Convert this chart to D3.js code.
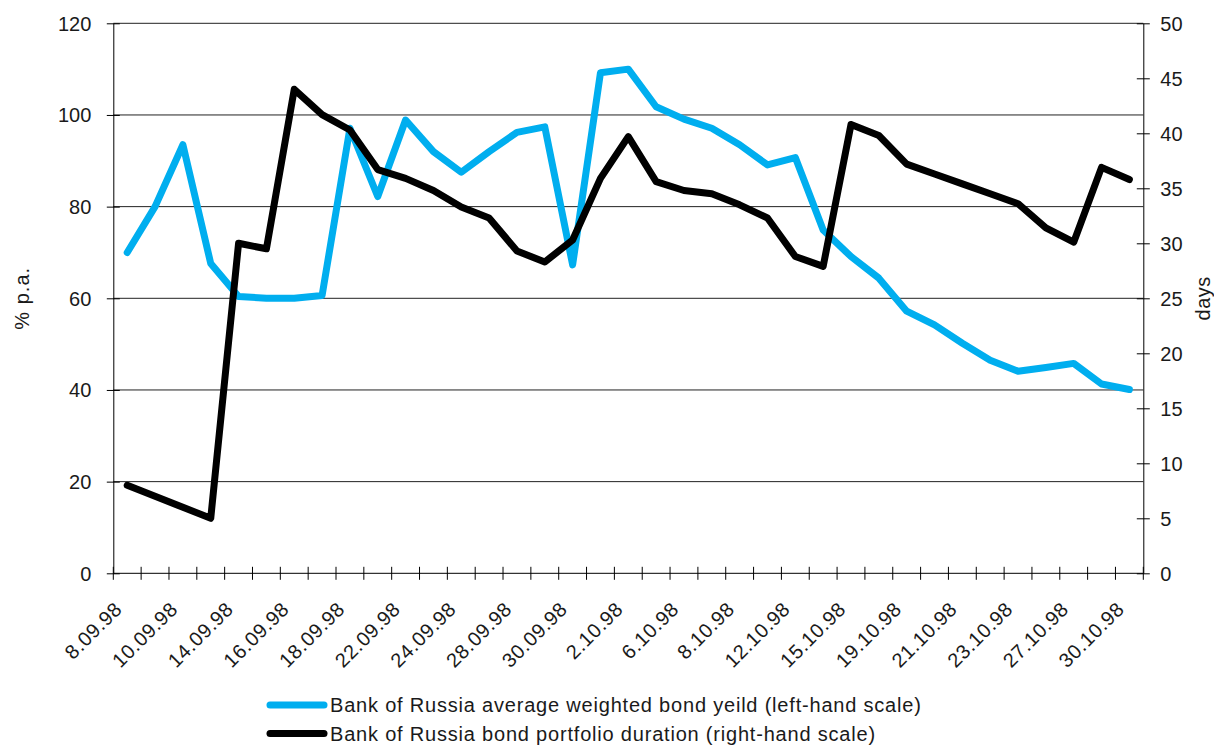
<html>
  <head>
    <meta charset="utf-8">
    <style>
      body { margin: 0; background: #fff; }
      #chart { width: 1214px; height: 745px; }
      text { font-family: "Liberation Sans", Arial, sans-serif; fill: #1a1a1a; }
    </style>
    <script src="https://d3js.org/d3.v7.min.js"></script>
  </head>
  <body>
    <div id="chart"></div>

    <script>
      // trading days, 8 Sep - 30 Oct 1998
      const dates = [
        '8.09.98', '9.09.98', '10.09.98', '11.09.98', '14.09.98', '15.09.98', '16.09.98', '17.09.98',
        '18.09.98', '21.09.98', '22.09.98', '23.09.98', '24.09.98', '25.09.98', '28.09.98', '29.09.98',
        '30.09.98', '1.10.98', '2.10.98', '5.10.98', '6.10.98', '7.10.98', '8.10.98', '9.10.98',
        '12.10.98', '13.10.98', '15.10.98', '16.10.98', '19.10.98', '20.10.98', '21.10.98', '22.10.98',
        '23.10.98', '26.10.98', '27.10.98', '28.10.98', '30.10.98'
      ];

      // % p.a. (left-hand scale)
      const bondYield = [
        70.0, 80.0, 93.5, 67.6, 60.4, 60.0, 60.0, 60.6, 97.1, 82.2, 98.9, 92.0, 87.5, 92.0, 96.2, 97.4,
        67.3, 109.2, 110.0, 101.8, 99.1, 97.1, 93.5, 89.1, 90.7, 74.9, 69.1, 64.4, 57.2, 54.2, 50.2, 46.5,
        44.1, 44.9, 45.8, 41.3, 40.1
      ];

      // days (right-hand scale)
      const duration = [
        8.0, 7.0, 6.0, 5.0, 30.0, 29.5, 44.0, 41.7, 40.3, 36.7, 35.9, 34.8, 33.3, 32.3, 29.3, 28.3,
        30.3, 35.9, 39.7, 35.6, 34.8, 34.5, 33.5, 32.3, 28.8, 27.9, 40.8, 39.8, 37.2, 36.3, 35.4, 34.5,
        33.6, 31.4, 30.1, 36.9, 35.8
      ];

      const leftTicks = [0, 20, 40, 60, 80, 100, 120];
      const rightTicks = [0, 5, 10, 15, 20, 25, 30, 35, 40, 45, 50];
      const seriesNames = [
        'Bank of Russia average weighted bond yeild (left-hand scale)',
        'Bank of Russia bond portfolio duration (right-hand scale)'
      ];
      const seriesColors = ['#00AEEF', '#000000'];

      const width = 1214, height = 745;
      const margin = { top: 23.3, bottom: 171.7, left: 113.3, right: 70.7 };
      const plotW = width - margin.left - margin.right;
      const plotH = height - margin.top - margin.bottom;

      const svg = d3.select('#chart').append('svg')
        .attr('width', width)
        .attr('height', height);

      const g = svg.append('g').attr('transform', `translate(${margin.left},${margin.top})`);

      const x = d3.scaleBand().domain(dates).range([0, plotW]).padding(0);
      const yLeft = d3.scaleLinear().domain([0, 120]).range([plotH, 0]);
      const yRight = d3.scaleLinear().domain([0, 50]).range([plotH, 0]);
      const cx = (d) => x(d) + x.bandwidth() / 2;

      // horizontal grid on left ticks
      g.append('g').attr('class', 'grid')
        .selectAll('line')
        .data(leftTicks.filter((d) => d > 0))
        .join('line')
        .attr('x1', 0)
        .attr('x2', plotW)
        .attr('y1', yLeft)
        .attr('y2', yLeft)
        .attr('stroke', '#222')
        .attr('stroke-width', 1);

      // left axis
      const leftAxis = g.append('g')
        .call(d3.axisLeft(yLeft).tickValues(leftTicks).tickSize(6.5).tickSizeOuter(0));
      leftAxis.select('.domain').attr('stroke', '#000');
      leftAxis.selectAll('.tick line').attr('x1', 6.5).attr('stroke', '#000');
      leftAxis.selectAll('.tick text')
        .attr('x', -22)
        .attr('dy', '0.35em')
        .style('font-size', '20px')
        .style('font-family', '"Liberation Sans", Arial, sans-serif')
        .attr('fill', '#1a1a1a');

      // right axis
      const rightAxis = g.append('g')
        .attr('transform', `translate(${plotW},0)`)
        .call(d3.axisRight(yRight).tickValues(rightTicks).tickSize(6.5).tickSizeOuter(0));
      rightAxis.select('.domain').attr('stroke', '#000');
      rightAxis.selectAll('.tick line').attr('x1', -6.5).attr('stroke', '#000');
      rightAxis.selectAll('.tick text')
        .attr('x', 17)
        .attr('dy', '0.35em')
        .style('font-size', '20px')
        .style('font-family', '"Liberation Sans", Arial, sans-serif')
        .attr('fill', '#1a1a1a');

      // x axis: line, boundary ticks, every second date label
      const xAxis = g.append('g').attr('transform', `translate(0,${plotH})`);
      xAxis.append('line')
        .attr('x1', 0).attr('x2', plotW)
        .attr('stroke', '#000');
      xAxis.selectAll('line.tick')
        .data(dates.map((d) => x(d)).concat([plotW]))
        .join('line')
        .attr('class', 'tick')
        .attr('x1', (d) => d).attr('x2', (d) => d)
        .attr('y1', -6.5).attr('y2', 6.5)
        .attr('stroke', '#000');
      xAxis.selectAll('text')
        .data(dates.filter((d, i) => i % 2 === 0))
        .join('text')
        .attr('transform', (d) => `translate(${cx(d) - 14},27) rotate(-45)`)
        .attr('text-anchor', 'end')
        .attr('dy', '0.71em')
        .style('font-size', '20px')
        .style('letter-spacing', '0.6px')
        .text((d) => d);

      // axis titles
      svg.append('text')
        .attr('transform', `translate(22,${margin.top + plotH / 2}) rotate(-90)`)
        .attr('text-anchor', 'middle')
        .attr('dy', '0.35em')
        .style('font-size', '20px')
        .style('letter-spacing', '1px')
        .text('% p.a.');
      svg.append('text')
        .attr('transform', `translate(1203,${margin.top + plotH / 2}) rotate(-90)`)
        .attr('text-anchor', 'middle')
        .attr('dy', '0.35em')
        .style('font-size', '20px')
        .style('letter-spacing', '0.5px')
        .text('days');

      // lines
      const yieldLine = d3.line()
        .x((d, i) => cx(dates[i]))
        .y((d) => yLeft(d));
      const durationLine = d3.line()
        .x((d, i) => cx(dates[i]))
        .y((d) => yRight(d));

      g.append('path')
        .datum(bondYield)
        .attr('d', yieldLine)
        .attr('fill', 'none')
        .attr('stroke', seriesColors[0])
        .attr('stroke-width', 7)
        .attr('stroke-linejoin', 'round')
        .attr('stroke-linecap', 'round');

      g.append('path')
        .datum(duration)
        .attr('d', durationLine)
        .attr('fill', 'none')
        .attr('stroke', seriesColors[1])
        .attr('stroke-width', 7)
        .attr('stroke-linejoin', 'round')
        .attr('stroke-linecap', 'round');

      // legend
      const legend = svg.append('g').attr('transform', 'translate(270,705)');
      const items = legend.selectAll('g')
        .data(seriesNames)
        .join('g')
        .attr('transform', (d, i) => `translate(0,${i * 28.5})`);
      items.append('line')
        .attr('x1', 0).attr('x2', 54)
        .attr('stroke', (d, i) => seriesColors[i])
        .attr('stroke-width', 7)
        .attr('stroke-linecap', 'round');
      items.append('text')
        .attr('x', 60)
        .attr('dy', '0.35em')
        .style('font-size', '20px')
        .style('letter-spacing', '0.8px')
        .text((d) => d);
    </script>
  </body>
</html>
